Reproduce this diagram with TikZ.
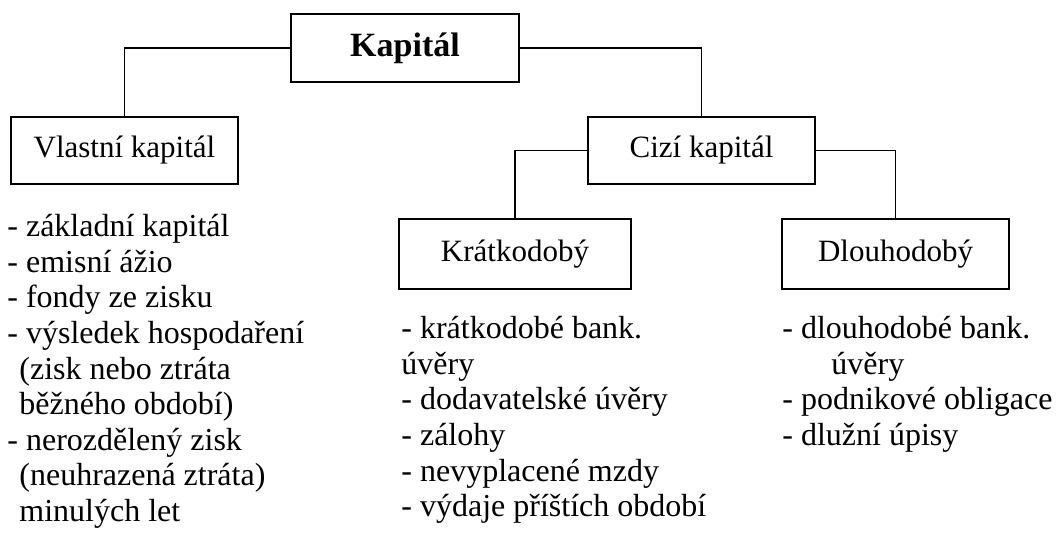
\documentclass[tikz,border=0pt]{standalone}
\usepackage{fontspec}
\setmainfont{Liberation Serif}
\usetikzlibrary{positioning}

\begin{document}
\begin{tikzpicture}[x=0.5pt,y=-0.5pt,
	box/.style={draw,line width=0.8pt,inner sep=0pt,minimum width=113.5pt,minimum height=33.5pt,font=\fontsize{15.5}{17.25}\selectfont},
	list/.style={anchor=north west,inner sep=0pt,align=left,font=\fontsize{16}{17.8}\selectfont},
	conn/.style={line width=0.8pt}]
	\useasboundingbox (0,0) rectangle (1056,534);
	\node[box,minimum width=114pt,minimum height=34pt,font=\fontsize{17}{19}\selectfont\bfseries] (kap) at (405,48) {Kapitál}; %koren
	\node[box] (vlast) at (124.5,150.5) {Vlastní kapitál}; %vlastni
	\node[box] (cizi) at (701.5,150.5) {Cizí kapitál}; %cizi
	\node[box,minimum width=116pt,minimum height=35pt] (kratk) at (515,254) {Krátkodobý};
	\node[box,minimum height=35pt] (dlouh) at (895.5,254) {Dlouhodobý};
	\draw[conn] (kap.west) -| (vlast.north);
	\draw[conn] (kap.east) -| (cizi.north);
	\draw[conn] (cizi.west) -| (kratk.north);
	\draw[conn] (cizi.east) -| (dlouh.north);
	% seznamy
	\node[list] (vlist) at (7,214) {- základní kapitál\\- emisní ážio\\- fondy ze zisku\\- výsledek hospodaření\\\hspace*{6pt}(zisk nebo ztráta\\\hspace*{6pt}běžného období)\\- nerozdělený zisk\\\hspace*{6pt}(neuhrazená ztráta)\\\hspace*{6pt}minulých let};
	\node[list] (klist) at (401,316) {- krátkodobé bank.\\úvěry\\- dodavatelské úvěry\\- zálohy\\- nevyplacené mzdy\\- výdaje příštích období};
	\node[list] (dlist) at (782,316) {- dlouhodobé bank.\\\hspace*{24.5pt}úvěry\\- podnikové obligace\\- dlužní úpisy};
\end{tikzpicture}
\end{document}
